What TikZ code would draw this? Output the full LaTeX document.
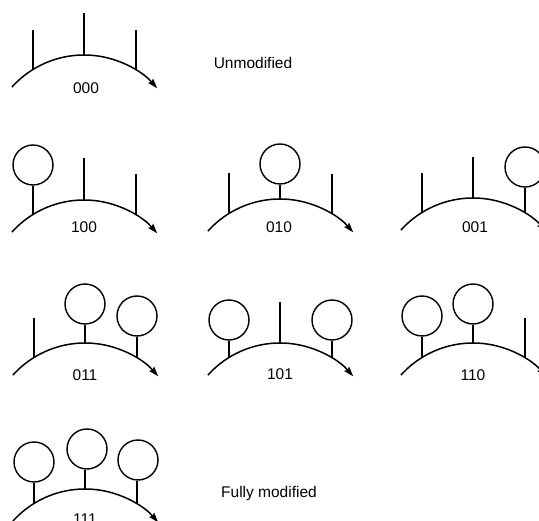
\documentclass[tikz,border=0pt]{standalone}
\usepackage{fontspec}
\setmainfont{Liberation Sans}
\usetikzlibrary{arrows.meta}
\tikzset{
  strand/.style={line width=1.5pt, -{Stealth[length=10pt,width=6.5pt,inset=1.5pt]}},
  stem/.style={line width=1.5pt},
  ball/.style={circle, draw, line width=1.4pt, minimum size=40pt, inner sep=0pt},
  code/.style={font=\fontsize{15.5}{18}\selectfont, inner sep=0pt},
  caption/.style={font=\fontsize{15.5}{18}\selectfont, inner sep=0pt},
}
% #1 = apex x, #2 = apex y, #3 = name prefix
\newcommand\strandarc[3]{%
  \coordinate (#3c) at (#1,#2+97);
  \draw[strand] (#3c) ++(-138:97) arc[start angle=-138, end angle=-41, radius=97];
  \path (#3c) ++(-121.7:97) coordinate (#3l);
  \path (#3c) ++(-90:97) coordinate (#3m);
  \path (#3c) ++(-57.6:97) coordinate (#3r);
}
\begin{document}
\begin{tikzpicture}[x=1pt,y=-1pt]
\useasboundingbox (0,0) rectangle (539,521);
\clip (0,0) rectangle (539,521);

% 000
\strandarc{84}{55}{a}
\draw[stem] (al) -- ++(0,-39.5);
\draw[stem] (am) -- ++(0,-42);
\draw[stem] (ar) -- ++(0,-40.5);
\node[code] (la) at (86,88) {000};
\node[caption] (unmod) at (253,63) {Unmodified};

% 100
\strandarc{84}{200}{b}
\node[ball] (bbl) at (33,165) {};
\draw[stem] (bl) -- (bl |- bbl.south);
\draw[stem] (bm) -- ++(0,-42);
\draw[stem] (br) -- ++(0,-41.5);
\node[code] (lb) at (84,227) {100};

% 010
\strandarc{280}{199}{c}
\draw[stem] (cl) -- ++(0,-40.5);
\node[ball] (cbm) at (280,164) {};
\draw[stem] (cm) -- (cm |- cbm.south);
\draw[stem] (cr) -- ++(0,-40.5);
\node[code] (lc) at (279,227) {010};

% 001
\strandarc{473}{198}{d}
\draw[stem] (dl) -- ++(0,-39.5);
\draw[stem] (dm) -- ++(0,-41);
\node[ball] (dbr) at (525,167) {};
\draw[stem] (dr) -- (dr |- dbr.south);
\node[code] (ld) at (475,227) {001};

% 011
\strandarc{85}{343}{e}
\draw[stem] (el) -- ++(0,-39.5);
\node[ball] (ebm) at (85,304) {};
\draw[stem] (em) -- (em |- ebm.south);
\node[ball] (ebr) at (137,316) {};
\draw[stem] (er) -- (er |- ebr.south);
\node[code] (le) at (85,375) {011};

% 101
\strandarc{280}{343}{f}
\node[ball] (fbl) at (229,320) {};
\draw[stem] (fl) -- (fl |- fbl.south);
\draw[stem] (fm) -- ++(0,-41);
\node[ball] (fbr) at (332,320) {};
\draw[stem] (fr) -- (fr |- fbr.south);
\node[code] (lf) at (280,374) {101};

% 110
\strandarc{473}{343}{g}
\node[ball] (gbl) at (422,316) {};
\draw[stem] (gl) -- (gl |- gbl.south);
\node[ball] (gbm) at (473,304) {};
\draw[stem] (gm) -- (gm |- gbm.south);
\draw[stem] (gr) -- ++(0,-40.5);
\node[code] (lg) at (473,375) {110};

% 111
\strandarc{85}{489}{h}
\node[ball] (hbl) at (34,462) {};
\draw[stem] (hl) -- (hl |- hbl.south);
\node[ball] (hbm) at (87,449) {};
\draw[stem] (hm) -- (hm |- hbm.south);
\node[ball] (hbr) at (138,460) {};
\draw[stem] (hr) -- (hr |- hbr.south);
\node[code] (lh) at (85,519) {111};
\node[caption] (fullmod) at (269,493) {Fully modified};
\end{tikzpicture}
\end{document}
